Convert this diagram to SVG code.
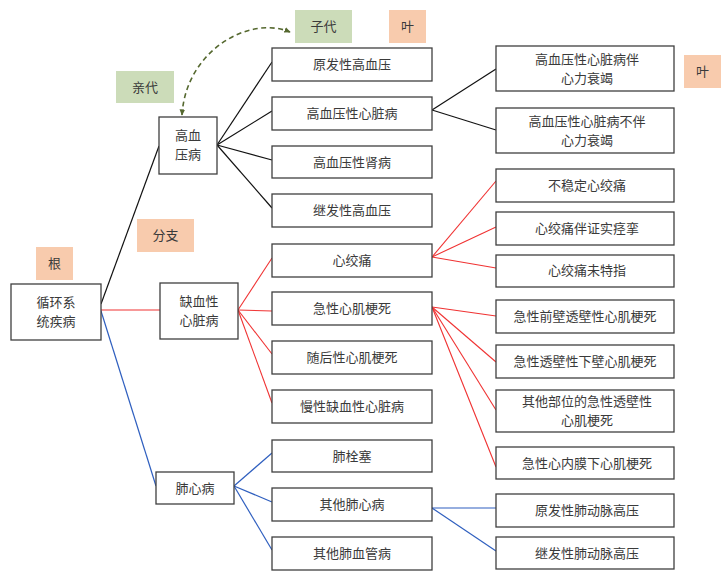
<svg xmlns="http://www.w3.org/2000/svg" width="727" height="575" viewBox="0 0 727 575">
<defs>
<style>
.box{fill:#fff;stroke:#3f3f3f;stroke-width:1.3}
.t{font-family:"Noto Sans CJK SC","Noto Sans",sans-serif;font-size:13px;fill:#3a3a3a;text-anchor:middle}
.green{fill:#ccdcb9}
.peach{fill:#f8cbad}
.k{stroke:#111;stroke-width:1.2;fill:none}
.r{stroke:#f03232;stroke-width:1.1;fill:none}
.b{stroke:#2f5fbf;stroke-width:1.2;fill:none}
</style>
<marker id="ah" viewBox="0 0 10 10" refX="8" refY="5" markerWidth="7" markerHeight="7" orient="auto-start-reverse" markerUnits="userSpaceOnUse">
<path d="M0,1 L9,5 L0,9 z" fill="#55682f"/>
</marker>
</defs>
<rect width="727" height="575" fill="#fff"/>

<g id="connectors">
<line class="k" x1="101" y1="304" x2="159" y2="146"/>
<line class="r" x1="101" y1="310" x2="160" y2="310"/>
<line class="b" x1="101" y1="311" x2="156" y2="486"/>
<line class="k" x1="217" y1="145" x2="272" y2="62"/>
<line class="k" x1="217" y1="145" x2="272" y2="111"/>
<line class="k" x1="217" y1="145" x2="272" y2="160"/>
<line class="k" x1="217" y1="145" x2="272" y2="208"/>
<line class="k" x1="432" y1="110" x2="496" y2="69"/>
<line class="k" x1="432" y1="110" x2="496" y2="130"/>
<line class="r" x1="238" y1="310" x2="272" y2="258"/>
<line class="r" x1="238" y1="310" x2="272" y2="311"/>
<line class="r" x1="238" y1="310" x2="272" y2="354"/>
<line class="r" x1="238" y1="310" x2="272" y2="403"/>
<line class="r" x1="432" y1="257" x2="496" y2="181"/>
<line class="r" x1="432" y1="257" x2="496" y2="227"/>
<line class="r" x1="432" y1="257" x2="496" y2="268"/>
<line class="r" x1="432" y1="307" x2="496" y2="316"/>
<line class="r" x1="432" y1="307" x2="496" y2="362"/>
<line class="r" x1="432" y1="307" x2="496" y2="410"/>
<line class="r" x1="432" y1="307" x2="496" y2="467"/>
<line class="b" x1="234" y1="486" x2="272" y2="453"/>
<line class="b" x1="234" y1="486" x2="272" y2="502"/>
<line class="b" x1="234" y1="486" x2="272" y2="550"/>
<line class="b" x1="432" y1="508" x2="496" y2="508"/>
<line class="b" x1="432" y1="508" x2="496" y2="551"/>
<path d="M182,115 C186,50 250,15 290,32" fill="none" stroke="#55682f" stroke-width="1.6" stroke-dasharray="5,3.5" marker-start="url(#ah)" marker-end="url(#ah)"/>
</g>

<g id="labels">
<rect class="green" x="116" y="71" width="58" height="32"/><text class="t" x="145" y="91.5">亲代</text>
<rect class="green" x="295" y="10" width="57" height="33"/><text class="t" x="323.5" y="31">子代</text>
<rect class="peach" x="389" y="10" width="37" height="33"/><text class="t" x="407.5" y="31">叶</text>
<rect class="peach" x="684" y="55" width="37" height="33"/><text class="t" x="702.5" y="76">叶</text>
<rect class="peach" x="36" y="247" width="37" height="33"/><text class="t" x="54.5" y="268">根</text>
<rect class="peach" x="137" y="219" width="57" height="33"/><text class="t" x="165.5" y="240">分支</text>
</g>

<g id="n-root"><rect class="box" x="11" y="284" width="90" height="56"/><text class="t" x="56" y="307">循环系</text><text class="t" x="56" y="326">统疾病</text></g>
<g id="n-gxyb"><rect class="box" x="159" y="117" width="58" height="57"/><text class="t" x="188" y="140">高血</text><text class="t" x="188" y="159">压病</text></g>
<g id="n-qxx"><rect class="box" x="160" y="283" width="78" height="56"/><text class="t" x="199" y="306">缺血性</text><text class="t" x="199" y="325">心脏病</text></g>
<g id="n-fxb"><rect class="box" x="156" y="472" width="78" height="32"/><text class="t" x="195" y="492.5">肺心病</text></g>

<g id="n-m1"><rect class="box" x="272" y="48" width="160" height="33"/><text class="t" x="352" y="68.5">原发性高血压</text></g>
<g id="n-m2"><rect class="box" x="272" y="97" width="160" height="33"/><text class="t" x="352" y="117.5">高血压性心脏病</text></g>
<g id="n-m3"><rect class="box" x="272" y="146" width="160" height="32"/><text class="t" x="352" y="166.5">高血压性肾病</text></g>
<g id="n-m4"><rect class="box" x="272" y="194" width="160" height="33"/><text class="t" x="352" y="214.5">继发性高血压</text></g>
<g id="n-m5"><rect class="box" x="272" y="244" width="160" height="33"/><text class="t" x="352" y="264.5">心绞痛</text></g>
<g id="n-m6"><rect class="box" x="272" y="292" width="160" height="33"/><text class="t" x="352" y="313">急性心肌梗死</text></g>
<g id="n-m7"><rect class="box" x="272" y="341" width="160" height="33"/><text class="t" x="352" y="361.5">随后性心肌梗死</text></g>
<g id="n-m8"><rect class="box" x="272" y="390" width="160" height="33"/><text class="t" x="352" y="410.5">慢性缺血性心脏病</text></g>
<g id="n-m9"><rect class="box" x="272" y="440" width="160" height="32"/><text class="t" x="352" y="460.5">肺栓塞</text></g>
<g id="n-m10"><rect class="box" x="272" y="488" width="160" height="33"/><text class="t" x="352" y="508.5">其他肺心病</text></g>
<g id="n-m11"><rect class="box" x="272" y="537" width="160" height="33"/><text class="t" x="352" y="557.5">其他肺血管病</text></g>

<g id="n-r1"><rect class="box" x="496" y="46" width="178" height="45"/><text class="t" x="587" y="63.5">高血压性心脏病伴</text><text class="t" x="587" y="82.5">心力衰竭</text></g>
<g id="n-r2"><rect class="box" x="496" y="108" width="178" height="45"/><text class="t" x="587" y="125.5">高血压性心脏病不伴</text><text class="t" x="587" y="144.5">心力衰竭</text></g>
<g id="n-r3"><rect class="box" x="496" y="169" width="178" height="33"/><text class="t" x="587" y="189.5">不稳定心绞痛</text></g>
<g id="n-r4"><rect class="box" x="496" y="212" width="178" height="33"/><text class="t" x="587" y="232.5">心绞痛伴证实痉挛</text></g>
<g id="n-r5"><rect class="box" x="496" y="255" width="178" height="32"/><text class="t" x="587" y="275">心绞痛未特指</text></g>
<g id="n-r6"><rect class="box" x="496" y="300" width="178" height="33"/><text class="t" x="585" y="320.5">急性前壁透壁性心肌梗死</text></g>
<g id="n-r7"><rect class="box" x="496" y="345" width="178" height="33"/><text class="t" x="585" y="365.5">急性透壁性下壁心肌梗死</text></g>
<g id="n-r8"><rect class="box" x="496" y="390" width="178" height="42"/><text class="t" x="587" y="406">其他部位的急性透壁性</text><text class="t" x="587" y="425">心肌梗死</text></g>
<g id="n-r9"><rect class="box" x="496" y="447" width="178" height="32"/><text class="t" x="587" y="467.5">急性心内膜下心肌梗死</text></g>
<g id="n-r10"><rect class="box" x="496" y="494" width="178" height="33"/><text class="t" x="587" y="514.5">原发性肺动脉高压</text></g>
<g id="n-r11"><rect class="box" x="496" y="537" width="178" height="32"/><text class="t" x="587" y="557.5">继发性肺动脉高压</text></g>
</svg>
